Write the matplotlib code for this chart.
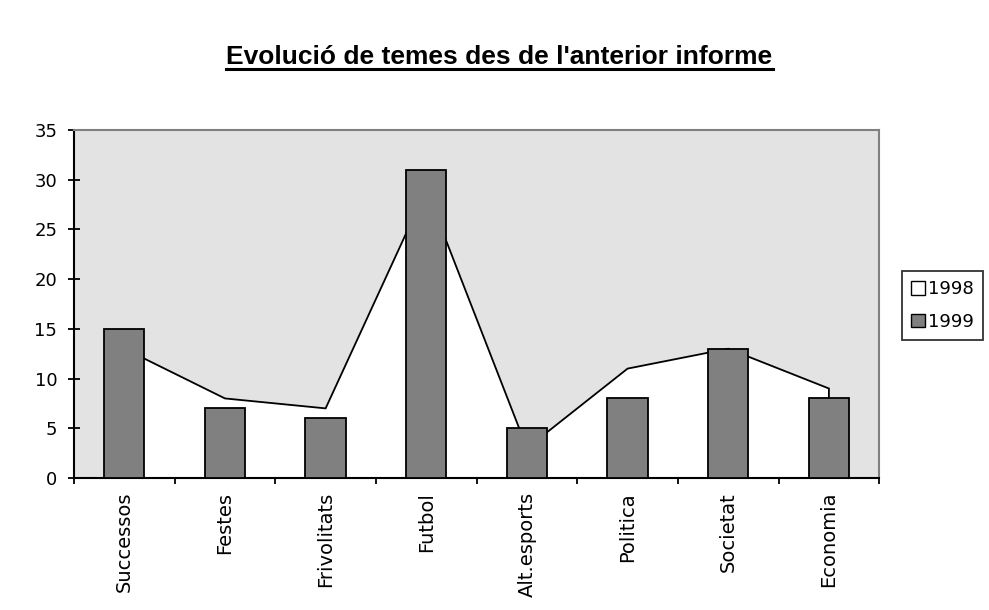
import numpy as np
import matplotlib.pyplot as plt
from matplotlib.lines import Line2D
from matplotlib.patches import Patch

# dades llegides del gràfic
temes = ['Successos', 'Festes', 'Frivolitats', 'Futbol', 'Alt.esports',
         'Politica', 'Societat', 'Economia']
any_1998 = [13, 8, 7, 29, 3, 11, 13, 9]
any_1999 = [15, 7, 6, 31, 5, 8, 13, 8]
yticks = [0, 5, 10, 15, 20, 25, 30, 35]

plt.rcParams['font.family'] = ['DejaVu Sans']

fig = plt.figure(figsize=(9.89, 6.10), dpi=100)
ax = fig.add_axes([0.0748, 0.2164, 0.8142, 0.5706])
ax.set_facecolor('#e3e3e3')

x = np.arange(len(temes))

# 1998: area blanca amb vora negra
px = np.concatenate([[x[0]], x, [x[-1]]])
py = np.concatenate([[0], any_1998, [0]])
ax.fill(px, py, facecolor='white', edgecolor='black', linewidth=1.3, zorder=2)

# 1999: barres grises
ax.bar(x, any_1999, width=0.4, color='#808080', edgecolor='black', linewidth=1.3, zorder=3)

ax.set_xlim(-0.5, len(temes) - 0.5)
ax.set_ylim(0, 35)
ax.set_yticks(yticks)
ax.set_yticklabels([str(v) for v in yticks], fontsize=13)
ax.set_xticks(np.arange(-0.5, len(temes), 1.0))
ax.set_xticklabels([])
ax.set_xticks(x, minor=True)
ax.set_xticklabels(temes, minor=True, rotation=90, fontsize=14, va='top')
ax.tick_params(axis='x', which='major', direction='inout', length=9, width=1.3)
ax.tick_params(axis='x', which='minor', length=0, pad=10)
ax.tick_params(axis='y', direction='inout', length=8, width=1.3, pad=8)

for s in ['left', 'bottom']:
    ax.spines[s].set_color('black')
    ax.spines[s].set_linewidth(1.5)
for s in ['top', 'right']:
    ax.spines[s].set_color('#808080')
    ax.spines[s].set_linewidth(1.5)

# títol subratllat
t = fig.text(0.505, 0.895, "Evolució de temes des de l'anterior informe",
             ha='center', va='baseline', fontsize=19, fontweight='bold',
             family=['Liberation Sans Narrow', 'Liberation Sans', 'DejaVu Sans'])
fig.canvas.draw()
bb = t.get_window_extent().transformed(fig.transFigure.inverted())
fig.add_artist(Line2D([bb.x0, bb.x1], [0.887, 0.887], color='black', linewidth=2.2))

handles = [Patch(facecolor='white', edgecolor='black', label='1998'),
           Patch(facecolor='#808080', edgecolor='black', label='1999')]
leg = fig.legend(handles=handles, loc='center left', bbox_to_anchor=(0.912, 0.499),
                 fontsize=13, frameon=True, fancybox=False, handlelength=0.75,
                 handleheight=0.75, handletextpad=0.2, borderpad=0.5, labelspacing=0.8,
                 borderaxespad=0)
leg.get_frame().set_edgecolor('black')
leg.get_frame().set_linewidth(1.3)

plt.savefig('out.png', dpi=100)
